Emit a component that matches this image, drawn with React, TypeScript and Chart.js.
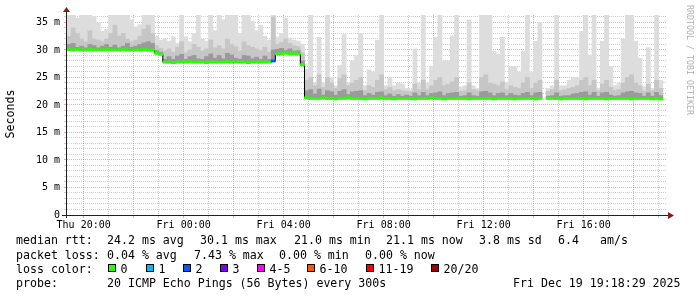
import React, { useEffect, useRef } from "react";
import { Chart, registerables } from "chart.js";

Chart.register(...registerables);

// ---------- data ----------
const START_HOUR = 19 + 20 / 60; // Thu 19:20 (hours since Thu 00:00)
const END_HOUR = START_HOUR + 24;
const STEP_HOURS = 10 / 60;
const Y_MAX_MS = 36.36;

// median rtt per 10-minute step (ms)
const medianMs: (number | null)[] = [
  30.1, 30.0, 30.1, 30.0, 30.0, 30.1, 30.0, 30.0, 30.0, 30.1,
  30.0, 30.0, 30.0, 30.1, 30.0, 30.0, 30.0, 30.0, 30.1, 30.0,
  30.0, 29.4, 29.2, 27.8, 27.8, 27.7, 27.8, 27.8, 27.8, 27.9,
  27.8, 27.8, 27.8, 27.7, 27.8, 27.8, 27.8, 27.8, 27.9, 27.8,
  27.8, 27.8, 27.8, 27.7, 27.8, 27.8, 27.8, 27.8, 27.8, 28.0,
  29.3, 29.3, 29.4, 29.3, 29.3, 29.3, 27.3, 21.3, 21.2, 21.2,
  21.2, 21.3, 21.2, 21.2, 21.1, 21.2, 21.2, 21.3, 21.2, 21.2,
  21.2, 21.1, 21.2, 21.2, 21.2, 21.3, 21.2, 21.2, 21.1, 21.2,
  21.2, 21.2, 21.2, 21.1, 21.2, 21.2, 21.2, 21.3, 21.2, 21.2,
  21.1, 21.2, 21.2, 21.2, 21.2, 21.2, 21.1, 21.2, 21.2, 21.2,
  21.2, 21.2, 21.1, 21.2, 21.2, 21.2, 21.2, 21.1, 21.2, 21.2,
  21.2, 21.2, 21.1, 21.2, null, 21.2, 21.2, 21.2, 21.1, 21.2,
  21.2, 21.2, 21.2, 21.2, 21.1, 21.2, 21.2, 21.2, 21.2, 21.1,
  21.2, 21.2, 21.2, 21.2, 21.2, 21.1, 21.2, 21.2, 21.2, 21.2,
  21.1, 21.2, 21.1,
];

// slowest ping per step (ms) – outer smoke
const maxMs: (number | null)[] = [
  37, 37, 35.8, 37, 37, 37, 36, 35, 33.4, 33.8,
  37, 37, 37, 37, 37, 35.5, 34.2, 34.6, 37, 37,
  37, 32.5, 31.8, 32, 31.6, 32.4, 31.2, 37, 32.4, 31.5,
  33, 37, 32, 31.6, 37, 33.5, 37, 35.5, 37, 36.4,
  37, 33, 37, 37, 35.2, 33.5, 34.5, 32.5, 31.8, 37,
  32.4, 33, 35.8, 32.2, 31.8, 31.6, 31, 26.5, 37, 24,
  32.3, 24, 37, 25, 23.5, 27.2, 32.8, 24, 28, 29,
  33, 23.5, 26.4, 26, 31.8, 37, 23.5, 25, 23.5, 24,
  23.8, 23, 22.8, 30.2, 24, 37, 24, 27, 32.3, 37,
  28, 28, 32.6, 37, 23.3, 23.5, 35.5, 23.5, 23, 37,
  37, 37, 29.8, 29.2, 32.3, 24, 27, 27, 26, 29.8,
  37, 26, 31.6, 35, null, 23, 23.5, 37, 23.5, 23.5,
  24.5, 25, 25, 33.4, 37, 29, 37, 23, 31.6, 37,
  27, 23.5, 24, 32, 37, 37, 31.6, 28.5, 23.3, 30.4,
  23, 37, 24.5,
];

// upper-middle pings per step (ms) – medium smoke
const upperMs: (number | null)[] = [
  32.5, 34, 33, 32, 31.5, 33.5, 32, 31.8, 31.5, 32,
  33, 34.5, 32.5, 33, 32, 31.5, 31.8, 32.5, 33.8, 34.5,
  33, 30.8, 30.3, 29.8, 30.2, 29.6, 30.5, 31.5, 29.5, 30,
  31, 30.5, 29.8, 30.2, 31.8, 30.4, 30.8, 30.2, 32, 31,
  30.6, 29.8, 31.5, 30.8, 30.5, 30.2, 29.9, 30.5, 29.6, 36,
  31, 31.4, 32, 31.2, 30.8, 30.6, 29.5, 24.5, 25, 23.5,
  25.5, 23.2, 25, 24, 23, 24.8, 25.5, 23.5, 24, 24.5,
  25, 22.6, 23.5, 23.2, 24.5, 25.5, 22.8, 23.2, 22.6, 22.8,
  22.6, 22.5, 22.4, 23.8, 22.8, 24.5, 22.8, 23.5, 24.5, 25,
  23.5, 23.8, 24.2, 25, 22.5, 22.6, 24, 22.8, 22.6, 25,
  25.5, 24, 23.8, 23.5, 24.2, 22.8, 23.5, 23.2, 23, 24,
  25, 23, 24, 24.5, null, 22.5, 22.8, 24.5, 22.6, 22.8,
  23, 23.2, 23.5, 24.5, 25, 23.5, 24.5, 22.6, 23.8, 24.5,
  23.2, 22.6, 22.8, 24, 25, 25.5, 24, 23.5, 22.5, 23.8,
  22.6, 24.5, 23,
];

// pings just above the median per step (ms) – dark smoke
const coreMs: (number | null)[] = [
  31.0, 31.2, 30.5, 30.7, 30.4, 31.0, 30.8, 30.4, 30.7, 31.0,
  30.5, 30.9, 30.4, 30.7, 31.2, 30.5, 30.7, 31.0, 31.3, 31.5,
  31.2, 29.9, 29.6, 28.3, 28.8, 28.3, 28.9, 29.2, 28.3, 28.8,
  29.0, 28.4, 28.3, 28.8, 29.3, 28.5, 29.0, 28.4, 29.4, 29.1,
  28.5, 28.3, 29.0, 28.9, 28.4, 28.7, 28.3, 28.9, 28.3, 30,
  30.1, 30.3, 29.9, 30.2, 29.8, 29.9, 28.0, 22.6, 22.8, 22.0,
  22.9, 21.8, 22.6, 22.4, 21.8, 22.5, 22.8, 21.9, 22.4, 22.5,
  22.6, 21.7, 22.1, 21.8, 22.3, 22.4, 21.7, 22.0, 21.6, 21.9,
  21.6, 21.8, 21.6, 22.2, 21.7, 22.3, 21.7, 22.1, 22.2, 22.4,
  21.7, 22.1, 22.2, 22.3, 21.6, 21.7, 22.2, 21.7, 21.6, 22.4,
  22.5, 22.2, 21.7, 22.1, 22.2, 21.7, 22.1, 21.8, 21.7, 22.1,
  22.3, 21.7, 22.2, 22.3, null, 21.6, 21.7, 22.2, 21.6, 21.7,
  21.7, 22.0, 22.1, 22.3, 22.4, 21.8, 22.3, 21.6, 22.2, 22.3,
  21.8, 21.6, 21.7, 22.2, 22.4, 22.5, 22.2, 22.1, 21.6, 22.2,
  21.6, 22.3, 21.7,
];

// [step index, lost pings of 20]
const lossEvents: [number, number][] = [[49, 2]];

const xLabelHours = [20, 24, 28, 32, 36, 40];
const xLabelText = ["Thu 20:00", "Fri 00:00", "Fri 04:00", "Fri 08:00", "Fri 12:00", "Fri 16:00"];
const yLabelMs = [0, 5, 10, 15, 20, 25, 30, 35];
const yLabelText = ["0", "5 m", "10 m", "15 m", "20 m", "25 m", "30 m", "35 m"];

const rttStats = ["24.2 ms avg", "30.1 ms max", "21.0 ms min", "21.1 ms now", "3.8 ms sd", "6.4", "am/s"];
const lossStats = ["0.04 % avg", "7.43 % max", "0.00 % min", "0.00 % now"];
const lossLegendLabels = ["0", "1", "2", "3", "4-5", "6-10", "11-19", "20/20"];
const lossLegendColors = ["#26ff00", "#00b8ff", "#0059ff", "#7e00ff", "#ff00ff", "#ff5500", "#ff0000", "#a10000"];
const probeText = "20 ICMP Echo Pings (56 Bytes) every 300s";
const dateText = "Fri Dec 19 19:18:29 2025";
const yTitle = "Seconds";
const sideText = "RRDTOOL / TOBI OETIKER";

// ---------- helpers ----------
function lossBucket(lost: number): number {
  if (lost <= 3) return lost;
  if (lost <= 5) return 4;
  if (lost <= 10) return 5;
  if (lost <= 19) return 6;
  return 7;
}

const MONO = "'DejaVu Sans Mono', 'Liberation Mono', monospace";

const axesPlugin = {
  id: "rrdAxes",
  afterDraw(chart: any) {
    const { ctx, chartArea: a } = chart;
    const L = Math.round(a.left);
    const R = Math.round(a.right);
    const T = Math.round(a.top);
    const B = Math.round(a.bottom);
    ctx.save();
    ctx.fillStyle = "#202020";
    ctx.fillRect(L - 1, T - 4, 1, B - T + 7);
    ctx.fillRect(L - 5, B, R - L + 6, 1);
    ctx.fillStyle = "#8b1a1a";
    ctx.beginPath();
    ctx.moveTo(L - 4, T - 3);
    ctx.lineTo(L + 3, T - 3);
    ctx.lineTo(L - 0.5, T - 8);
    ctx.closePath();
    ctx.fill();
    ctx.beginPath();
    ctx.moveTo(R + 1, B - 3);
    ctx.lineTo(R + 1, B + 4);
    ctx.lineTo(R + 7, B + 0.5);
    ctx.closePath();
    ctx.fill();
    ctx.restore();
  },
};

export default function App() {
  const canvasRef = useRef<HTMLCanvasElement>(null);

  useEffect(() => {
    if (!canvasRef.current) return;
    const xAt = (i: number) => START_HOUR + (i + 0.5) * STEP_HOURS;
    const band = (top: (number | null)[]) =>
      medianMs.map((m, i) => ({
        x: xAt(i),
        y: m == null || top[i] == null ? null : [m, top[i] as number],
      }));
    const lossByStep: Record<number, number> = {};
    lossEvents.forEach(([i, n]) => (lossByStep[i] = n));
    const medianColors = medianMs.map((_, i) => lossLegendColors[lossBucket(lossByStep[i] || 0)]);

    const barCommon = {
      type: "bar" as const,
      grouped: false,
      barPercentage: 1,
      categoryPercentage: 1,
      borderWidth: 0,
      clip: 0,
    };

    const gridTicksX: number[] = [];
    for (let h = Math.ceil(START_HOUR); h <= Math.floor(END_HOUR); h++) gridTicksX.push(h);
    const gridTicksY: number[] = [];
    for (let v = 0; v <= Math.floor(Y_MAX_MS); v++) gridTicksY.push(v);

    const majorColor = "rgba(190,60,60,0.42)";
    const minorColor = "rgba(130,130,130,0.38)";

    const chart = new Chart(canvasRef.current, {
      type: "bar",
      data: {
        datasets: [
          { ...barCommon, order: 4, data: band(maxMs), backgroundColor: "#dddddd" },
          { ...barCommon, order: 3, data: band(upperMs), backgroundColor: "#c6c6c6" },
          { ...barCommon, order: 2, data: band(coreMs), backgroundColor: "#9a9a9a" },
          {
            type: "line",
            order: 1,
            data: medianMs.map((m, i) => ({ x: xAt(i), y: m })),
            stepped: "middle",
            borderColor: "#000000",
            borderWidth: 1,
            pointRadius: 0,
            spanGaps: false,
            clip: 0,
          } as any,
          {
            ...barCommon,
            order: 0,
            data: medianMs.map((m, i) => ({ x: xAt(i), y: m == null ? null : [m - 0.2, m + 0.2] })),
            backgroundColor: medianColors,
          },
        ] as any,
      },
      options: {
        responsive: false,
        devicePixelRatio: 1,
        animation: false,
        events: [],
        layout: { padding: { left: 0, right: 30, top: 15, bottom: 62 } },
        plugins: { legend: { display: false }, tooltip: { enabled: false } },
        scales: {
          x: {
            type: "linear",
            min: START_HOUR,
            max: END_HOUR,
            offset: false,
            z: 1,
            afterBuildTicks: (s: any) => {
              s.ticks = gridTicksX.map((v) => ({ value: v }));
            },
            afterFit: (s: any) => {
              s.height = 20;
            },
            grid: {
              offset: false,
              lineWidth: 1,
              tickLength: 3,
              color: (c: any) => (c.tick && c.tick.value % 2 === 0 ? majorColor : minorColor),
            },
            border: { display: false, dash: [1, 1] },
            ticks: {
              autoSkip: false,
              maxRotation: 0,
              padding: 1,
              color: "#000",
              font: { family: MONO, size: 10 },
              callback: (v: any) => {
                const k = xLabelHours.indexOf(Number(v));
                return k >= 0 ? xLabelText[k] : "";
              },
            },
          },
          y: {
            type: "linear",
            min: 0,
            max: Y_MAX_MS,
            z: 1,
            afterBuildTicks: (s: any) => {
              s.ticks = gridTicksY.map((v) => ({ value: v }));
            },
            afterFit: (s: any) => {
              s.width = 67;
            },
            grid: {
              lineWidth: 1,
              tickLength: 3,
              color: (c: any) => (c.tick && c.tick.value % 5 === 0 ? majorColor : minorColor),
            },
            border: { display: false, dash: [1, 1] },
            ticks: {
              autoSkip: false,
              padding: 4,
              color: "#000",
              font: { family: MONO, size: 10 },
              callback: (v: any) => {
                const k = yLabelMs.indexOf(Number(v));
                return k >= 0 ? yLabelText[k] : "";
              },
            },
          },
        },
      } as any,
      plugins: [axesPlugin],
    });
    return () => chart.destroy();
  }, []);

  const txt = (left: number, top: number, extra: any = {}): React.CSSProperties => ({
    position: "absolute",
    left,
    top,
    fontFamily: MONO,
    fontSize: "11.6px",
    lineHeight: "14px",
    whiteSpace: "pre",
    color: "#000",
    ...extra,
  });

  const rttX = [107, 200, 294, 386, 479, 558, 600];
  const lossX = [107, 194, 279, 365];
  const boxX = [108, 146, 183, 220, 257, 307, 366, 431];
  const lineTop = [233.3, 247.5, 261.7, 275.9];

  return (
    <div
      style={{
        position: "fixed",
        left: 0,
        top: 0,
        width: 697,
        height: 297,
        background: "#ffffff",
        overflow: "hidden",
      }}
    >
      <canvas
        ref={canvasRef}
        width={697}
        height={297}
        style={{ position: "absolute", left: 0, top: 0, width: 697, height: 297 }}
      />
      <div
        style={{
          ...txt(10 - 30, 114 - 7),
          width: 60,
          textAlign: "center",
          transform: "rotate(-90deg)",
          transformOrigin: "50% 50%",
        }}
      >
        {yTitle}
      </div>
      <div
        style={{
          position: "absolute",
          left: 690 - 60,
          top: 60 - 5,
          width: 120,
          height: 10,
          lineHeight: "10px",
          textAlign: "center",
          fontFamily: MONO,
          fontSize: "8.3px",
          color: "#b0b0b0",
          whiteSpace: "pre",
          transform: "rotate(90deg)",
          transformOrigin: "50% 50%",
        }}
      >
        {sideText}
      </div>

      <div style={txt(16, lineTop[0])}>median rtt:</div>
      {rttStats.map((s, k) => (
        <div key={"r" + k} style={txt(rttX[k], lineTop[0])}>
          {s}
        </div>
      ))}

      <div style={txt(16, lineTop[1])}>packet loss:</div>
      {lossStats.map((s, k) => (
        <div key={"l" + k} style={txt(lossX[k], lineTop[1])}>
          {s}
        </div>
      ))}

      <div style={txt(16, lineTop[2])}>loss color:</div>
      {lossLegendLabels.map((s, k) => (
        <React.Fragment key={"c" + k}>
          <div
            style={{
              position: "absolute",
              left: boxX[k],
              top: 264,
              width: 6,
              height: 6,
              border: "1px solid #000",
              background: lossLegendColors[k],
            }}
          />
          <div style={txt(boxX[k] + 12.5, lineTop[2])}>{s}</div>
        </React.Fragment>
      ))}

      <div style={txt(16, lineTop[3])}>probe:</div>
      <div style={txt(107, lineTop[3])}>{probeText}</div>
      <div style={txt(513, lineTop[3])}>{dateText}</div>
    </div>
  );
}
